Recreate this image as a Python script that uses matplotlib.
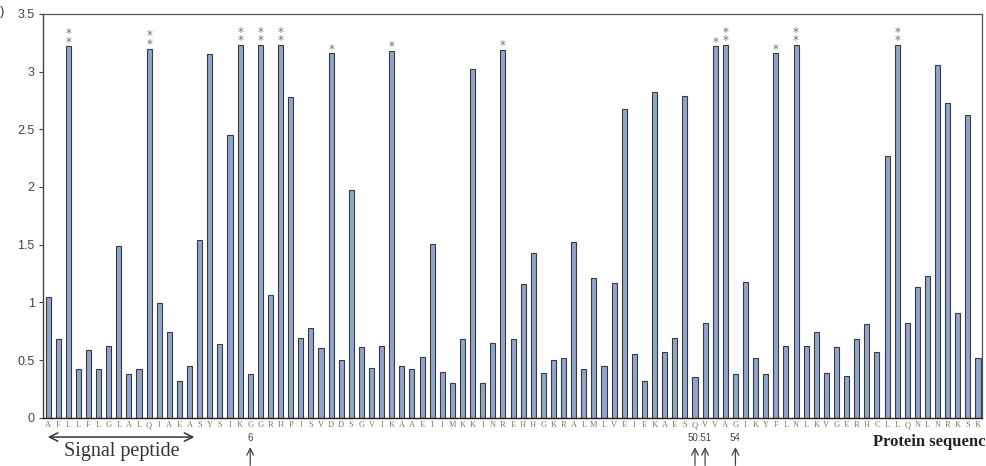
import matplotlib
matplotlib.use("Agg")
import matplotlib.pyplot as plt
import numpy as np

# protein sequence, one residue per bar
residues = list("AFLLFLGLALQIAEASYSIKGGRHPISVDDSGVIKAAEIIMKKINREHHGKRALMLVEIEKAESQVVAGIKYFLNLKVGERHCLLQNLNRKSK")

scores = [
    1.05, 0.68, 3.22, 0.42, 0.59, 0.42, 0.62, 1.49, 0.38, 0.42,
    3.20, 0.99, 0.74, 0.32, 0.45, 1.54, 3.15, 0.64, 2.45, 3.23,
    0.38, 3.23, 1.06, 3.23, 2.78, 0.69, 0.78, 0.60, 3.16, 0.50,
    1.97, 0.61, 0.43, 0.62, 3.18, 0.45, 0.42, 0.53, 1.51, 0.40,
    0.30, 0.68, 3.02, 0.30, 0.65, 3.19, 0.68, 1.16, 1.43, 0.39,
    0.50, 0.52, 1.52, 0.42, 1.21, 0.45, 1.17, 2.68, 0.55, 0.32,
    2.82, 0.57, 0.69, 2.79, 0.35, 0.82, 3.22, 3.23, 0.38, 1.18,
    0.52, 0.38, 3.16, 0.62, 3.23, 0.62, 0.74, 0.39, 0.61, 0.36,
    0.68, 0.81, 0.57, 2.27, 3.23, 0.82, 1.13, 1.23, 3.06, 2.73,
    0.91, 2.62, 0.52,
]

# significance marks (bar index -> number of asterisks)
double_star = [2, 10, 19, 21, 23, 67, 74, 84]
single_star = [28, 34, 45, 66, 72]

# positions marked with arrows below the axis
marked_pos = [20, 64, 65, 68]
marked_labels = [(20, "6"), (64.5, "50:51"), (68, "54")]

signal_end = 14

bar_color = "#8fa4cf"
edge_color = "#3a3a3a"
grey = "#707070"

fig = plt.figure(figsize=(9.86, 4.66), dpi=100)
ax = fig.add_axes([0.0436, 0.1037, 0.9519, 0.8663])

x = np.arange(len(scores))
ax.bar(x, scores, width=0.5, color=bar_color, edgecolor=edge_color, linewidth=0.8)

ax.set_xlim(-0.5, 92.35)
ax.set_ylim(0, 3.5)
ax.set_yticks([0, 0.5, 1, 1.5, 2, 2.5, 3, 3.5])
ax.set_yticklabels(["0", "0.5", "1", "1.5", "2", "2.5", "3", "3.5"],
                   family="Liberation Sans", fontsize=9, color="#444444")
ax.tick_params(axis="y", direction="out", length=3, width=0.8, pad=3, colors="#444444")

ax.set_xticks(x)
ax.set_xticklabels(residues, family="Liberation Serif", fontsize=6, color="#777777")
ax.tick_params(axis="x", length=0, pad=2.5)

for s in ["top", "right"]:
    ax.spines[s].set_color("#555555")
    ax.spines[s].set_linewidth(0.9)
ax.spines["left"].set_color("#444444")
ax.spines["left"].set_linewidth(1.0)
ax.spines["bottom"].set_color("#222222")
ax.spines["bottom"].set_linewidth(1.0)

for i in double_star:
    for off in (0.5, 6.8):
        ax.annotate("*", (i, scores[i]), xytext=(0, off), textcoords="offset points",
                    ha="center", va="baseline", fontsize=8.5, color=grey)
for i in single_star:
    ax.annotate("*", (i, scores[i]), xytext=(0, 0.5), textcoords="offset points",
                ha="center", va="baseline", fontsize=8.5, color=grey)

trans = ax.get_xaxis_transform()

# signal peptide span
ax.annotate("", xy=(-0.3, -0.048), xytext=(signal_end + 0.75, -0.048), xycoords=trans,
            textcoords=trans, annotation_clip=False,
            arrowprops=dict(arrowstyle="<->", color="#333333", lw=1.1, mutation_scale=15))
ax.text(7.3, -0.085, "Signal peptide", transform=trans, ha="center", va="center",
        family="Liberation Serif", fontsize=14.5, color="#333333")

# label runs past the right edge, as in the source figure
ax.text(81.6, -0.06, "Protein sequence", transform=trans, ha="left", va="center",
        family="Liberation Serif", fontsize=12, fontweight="bold", color="#222222")

for pos, lab in marked_labels:
    ax.text(pos, -0.05, lab, transform=trans, ha="center", va="center",
            family="Liberation Sans", fontsize=7, color="#444444")
for pos in marked_pos:
    ax.annotate("", xy=(pos, -0.066), xytext=(pos, -0.125), xycoords=trans,
                textcoords=trans, annotation_clip=False,
                arrowprops=dict(arrowstyle="->", color="#444444", lw=0.9, mutation_scale=12))

fig.text(4 / 986, 1 - 12 / 466, "(b)", ha="right", va="center",
         family="Liberation Sans", fontsize=9, color="#333333")

fig.savefig("out.png", dpi=100)
